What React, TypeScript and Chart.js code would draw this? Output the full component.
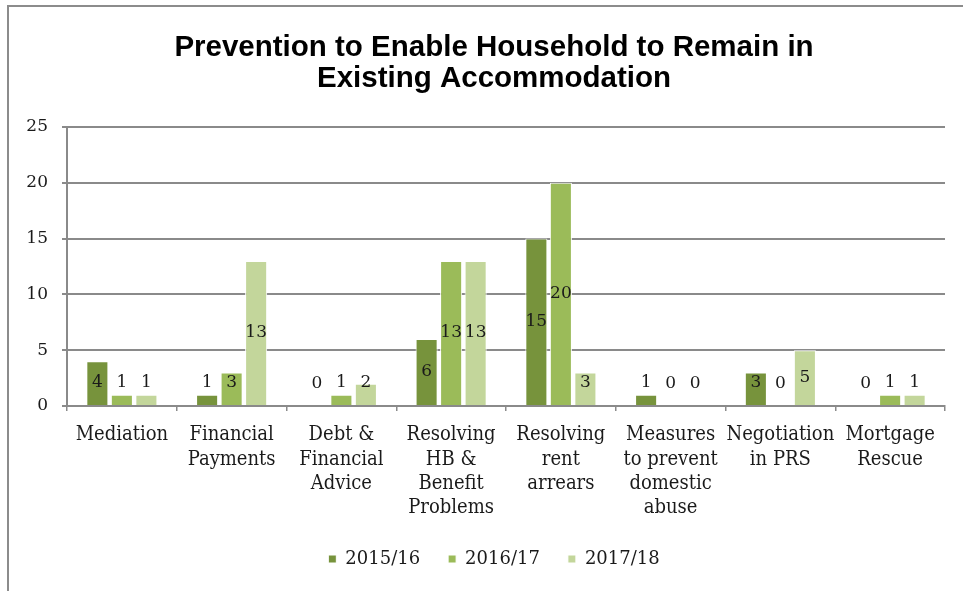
import React, { useEffect, useRef } from 'react';
import { Chart, registerables } from 'chart.js';

Chart.register(...registerables);

const chartTitle = ['Prevention to Enable Household to Remain in', 'Existing Accommodation'];
const categories = [
  ['Mediation'],
  ['Financial', 'Payments'],
  ['Debt &', 'Financial', 'Advice'],
  ['Resolving', 'HB &', 'Benefit', 'Problems'],
  ['Resolving', 'rent', 'arrears'],
  ['Measures', 'to prevent', 'domestic', 'abuse'],
  ['Negotiation', 'in PRS'],
  ['Mortgage', 'Rescue'],
];
const seriesNames = ['2015/16', '2016/17', '2017/18'];
const values2015 = [4, 1, 0, 6, 15, 1, 3, 0];
const values2016 = [1, 3, 1, 13, 20, 0, 0, 1];
const values2017 = [1, 13, 2, 13, 3, 0, 5, 1];
const seriesColors = ['#77933C', '#9BBB59', '#C3D69B'];
const yMin = 0;
const yMax = 25;
const yStep = 5;

const SERIF = '"DejaVu Serif", serif';
const SERIF_COND = '"DejaVu Serif Condensed", "DejaVu Serif", serif';

const valueLabels = {
  id: 'valueLabels',
  afterDatasetsDraw(chart: any) {
    const ctx = chart.ctx;
    ctx.save();
    ctx.font = '17px ' + SERIF;
    ctx.fillStyle = '#1a1a1a';
    ctx.textAlign = 'center';
    ctx.textBaseline = 'middle';
    chart.data.datasets.forEach((ds: any, i: number) => {
      const meta = chart.getDatasetMeta(i);
      meta.data.forEach((bar: any, j: number) => {
        const { x, y, base } = bar.getProps(['x', 'y', 'base'], true);
        const cy = Math.min((y + base) / 2, base - 22);
        ctx.fillText(String(ds.data[j]), x, cy);
      });
    });
    ctx.restore();
  },
};

export default function App() {
  const ref = useRef<HTMLCanvasElement | null>(null);
  useEffect(() => {
    if (!ref.current) return;
    const data = [values2015, values2016, values2017];
    const chart = new Chart(ref.current, {
      type: 'bar',
      data: {
        labels: categories,
        datasets: seriesNames.map((name, i) => ({
          label: name,
          data: data[i],
          backgroundColor: seriesColors[i],
          borderColor: '#ffffff',
          borderWidth: 1,
          categoryPercentage: 0.67,
          barPercentage: 0.9,
          yAxisID: 'y',
        })),
      },
      options: {
        responsive: false,
        animation: false,
        layout: { padding: { left: 25, right: 0, top: 0, bottom: 13 } },
        plugins: {
          title: {
            display: true,
            text: chartTitle,
            color: '#000',
            font: { family: '"Liberation Sans", Arial, sans-serif', size: 29.5, weight: 'bold', lineHeight: 1.05 },
            padding: { top: 32, bottom: 33 },
          },
          legend: {
            position: 'bottom',
            labels: {
              boxWidth: 8,
              boxHeight: 8,
              padding: 28,
              color: '#1a1a1a',
              font: { family: SERIF, size: 18 },
            },
          },
          tooltip: { enabled: false },
        },
        scales: {
          x: {
            grid: {
              display: true,
              drawOnChartArea: false,
              drawTicks: true,
              tickLength: 5,
              color: '#8a8a8a',
              lineWidth: 1.5,
            },
            border: { display: true, color: '#8a8a8a', width: 2 },
            ticks: {
              color: '#1a1a1a',
              font: { family: SERIF_COND, size: 20, lineHeight: 1.215 },
              padding: 12,
              maxRotation: 0,
              minRotation: 0,
              autoSkip: false,
            },
            afterFit: (scale: any) => {
              scale.height = 116;
            },
          },
          y: {
            type: 'linear',
            position: 'left',
            min: yMin,
            max: yMax,
            ticks: {
              stepSize: yStep,
              color: '#1a1a1a',
              font: { family: SERIF, size: 17 },
              padding: 14,
            },
            grid: {
              color: '#8a8a8a',
              lineWidth: 2,
              drawTicks: true,
              tickLength: 5,
            },
            border: { display: true, color: '#8a8a8a', width: 2 },
            afterFit: (scale: any) => {
              scale.width = 42;
            },
          },
          yRight: {
            type: 'linear',
            position: 'right',
            display: true,
            grid: { display: false, drawTicks: false },
            ticks: { display: false },
            border: { display: false },
            afterFit: (scale: any) => {
              scale.width = 18;
            },
          },
        },
      },
      plugins: [valueLabels],
    } as any);
    return () => chart.destroy();
  }, []);

  return (
    <div style={{ position: 'fixed', left: 0, top: 0, width: 963, height: 591, background: '#fff', overflow: 'hidden' }}>
      <div
        style={{
          position: 'absolute',
          left: 7,
          top: 5,
          width: 963,
          height: 600,
          borderTop: '2px solid #8c8c8c',
          borderLeft: '2px solid #8c8c8c',
        }}
      />
      <canvas ref={ref} width={963} height={591} style={{ position: 'absolute', left: 0, top: 0, width: 963, height: 591 }} />
    </div>
  );
}
